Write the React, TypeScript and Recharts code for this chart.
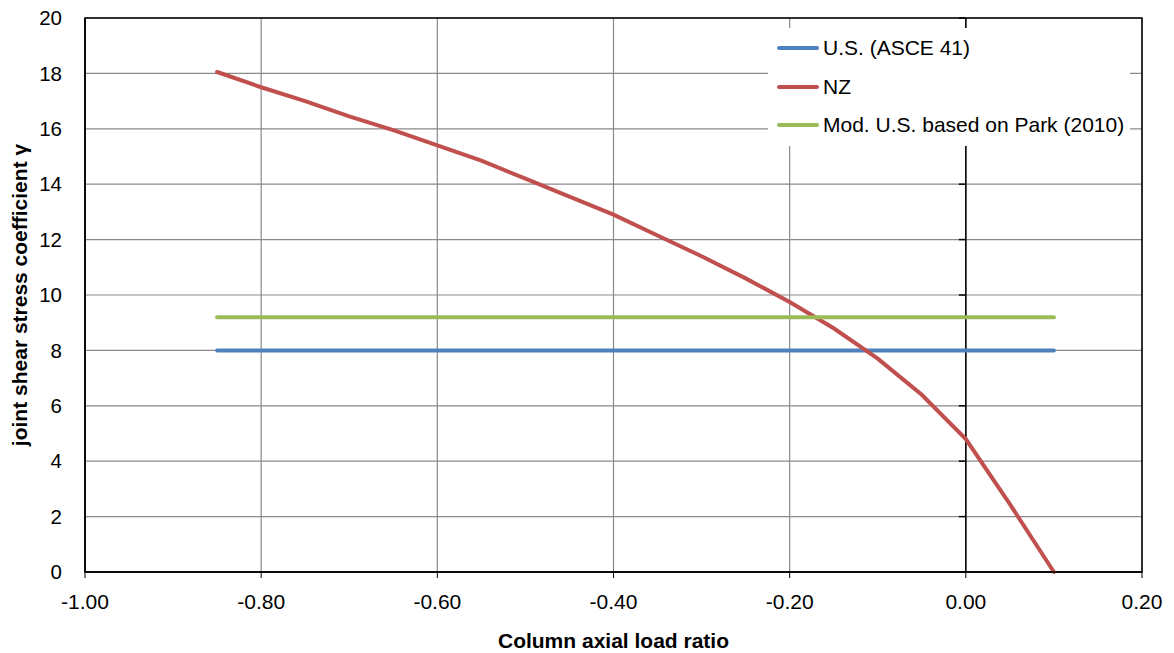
import React from 'react';
import {
  LineChart,
  Line,
  XAxis,
  YAxis,
  CartesianGrid,
  ReferenceLine,
  ReferenceArea,
} from 'recharts';

// ─── Data ────────────────────────────────────────────────
const X_TICKS = [-1, -0.8, -0.6, -0.4, -0.2, 0, 0.2];
const Y_TICKS = [0, 2, 4, 6, 8, 10, 12, 14, 16, 18, 20];

// NZ curve
const NZ_RATIO = [
  -0.85, -0.8, -0.75, -0.7, -0.65, -0.6, -0.55, -0.5, -0.45, -0.4,
  -0.35, -0.3, -0.25, -0.2, -0.15, -0.1, -0.05, 0, 0.05, 0.1,
];
const NZ_GAMMA = [
  18.05, 17.5, 17.0, 16.45, 15.95, 15.4, 14.85, 14.2, 13.55, 12.9,
  12.15, 11.4, 10.6, 9.75, 8.8, 7.7, 6.4, 4.8, 2.45, 0,
];

// flat lines
const US_RATIO = [-0.85, 0.1];
const US_GAMMA = [8, 8];
const MOD_RATIO = [-0.85, 0.1];
const MOD_GAMMA = [9.2, 9.2];

const COLORS = {
  us: '#4f81bd',
  nz: '#c0504d',
  mod: '#9bbb59',
};

const toPoints = (xs: number[], ys: number[]) => xs.map((x, i) => ({ x, y: ys[i] }));

const nzData = toPoints(NZ_RATIO, NZ_GAMMA);
const usData = toPoints(US_RATIO, US_GAMMA);
const modData = toPoints(MOD_RATIO, MOD_GAMMA);

const SERIES = [
  { name: 'U.S. (ASCE 41)', color: COLORS.us },
  { name: 'NZ', color: COLORS.nz },
  { name: 'Mod. U.S. based on Park (2010)', color: COLORS.mod },
];

const FONT = '"Liberation Sans", Arial, sans-serif';
const GRID = '#8a8a8a';

// ─── Legend (html, sits over the plot) ───────────────────
function ChartLegend() {
  return (
    <div
      style={{
        position: 'absolute',
        left: 768,
        top: 28,
        width: 362,
        height: 118,
        background: '#fff',
        paddingTop: 1,
        boxSizing: 'border-box',
      }}
    >
      {SERIES.map((s) => (
        <div key={s.name} style={{ display: 'flex', alignItems: 'center', height: 38.5 }}>
          <span
            style={{
              display: 'inline-block',
              width: 42,
              height: 4,
              borderRadius: 2,
              marginLeft: 9,
              marginRight: 4,
              background: s.color,
            }}
          />
          <span style={{ fontFamily: FONT, fontSize: 21, color: '#000', whiteSpace: 'nowrap' }}>{s.name}</span>
        </div>
      ))}
    </div>
  );
}

// ─── Chart ───────────────────────────────────────────────
export default function App() {
  const zeroTickLen = 7 / 880.8;
  return (
    <div style={{ position: 'absolute', left: 0, top: 0, width: 1174, height: 653, background: '#fff', fontFamily: FONT }}>
      <LineChart width={1174} height={653} margin={{ top: 18, right: 32, bottom: 0, left: 0 }}>
        <CartesianGrid stroke={GRID} strokeWidth={1.2} />
        <XAxis
          dataKey="x"
          type="number"
          domain={[-1, 0.2]}
          ticks={X_TICKS}
          allowDataOverflow
          height={81}
          tickFormatter={(v: number) => v.toFixed(2)}
          tick={{ fill: '#000', fontSize: 21, fontFamily: FONT }}
          tickSize={6}
          tickMargin={16}
          stroke="#000"
          axisLine={{ stroke: '#000', strokeWidth: 1.5 }}
          tickLine={{ stroke: '#000' }}
          label={{
            value: 'Column axial load ratio',
            position: 'insideBottom',
            offset: 5,
            style: { fontWeight: 'bold', fontSize: 21, fill: '#000', fontFamily: FONT },
          }}
        />
        <YAxis
          type="number"
          domain={[0, 20]}
          ticks={Y_TICKS}
          width={85}
          tick={{ fill: '#000', fontSize: 20.5, fontFamily: FONT }}
          tickLine={false}
          tickSize={6}
          tickMargin={17}
          axisLine={{ stroke: '#000', strokeWidth: 1.5 }}
          label={{
            value: 'joint shear stress coefficient γ',
            angle: -90,
            position: 'insideLeft',
            offset: 20,
            style: { textAnchor: 'middle', fontWeight: 'bold', fontSize: 21, fill: '#000', fontFamily: FONT },
          }}
        />
        <ReferenceArea x1={-1} x2={0.2} y1={0} y2={20} fill="none" stroke="#000" strokeWidth={1.5} />
        <ReferenceLine x={0} stroke="#000" strokeWidth={1.5} />
        {Y_TICKS.map((t) => (
          <ReferenceLine
            key={t}
            segment={[
              { x: -zeroTickLen, y: t },
              { x: 0, y: t },
            ]}
            stroke="#000"
            strokeWidth={1.5}
          />
        ))}
        <Line
          data={usData}
          dataKey="y"
          name={SERIES[0].name}
          stroke={COLORS.us}
          strokeWidth={4}
          strokeLinecap="round"
          dot={false}
          isAnimationActive={false}
        />
        <Line
          data={nzData}
          dataKey="y"
          name={SERIES[1].name}
          stroke={COLORS.nz}
          strokeWidth={4}
          strokeLinecap="round"
          dot={false}
          isAnimationActive={false}
        />
        <Line
          data={modData}
          dataKey="y"
          name={SERIES[2].name}
          stroke={COLORS.mod}
          strokeWidth={4}
          strokeLinecap="round"
          dot={false}
          isAnimationActive={false}
        />
      </LineChart>
      <ChartLegend />
    </div>
  );
}
